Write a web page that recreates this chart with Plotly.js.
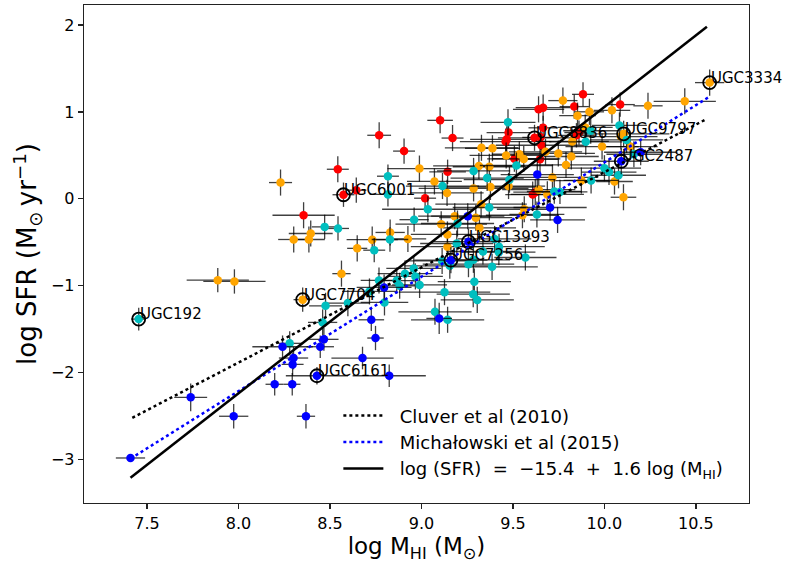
<!DOCTYPE html>
<html><head><meta charset="utf-8">
<script src="https://cdn.plot.ly/plotly-3.0.1.min.js"></script>
<style>body{margin:0;background:#fff}#chart{width:785px;height:565px}</style>
</head><body><div id="chart"></div>
<script>
// ---- data (log M_HI, log SFR, errors) ----
var redX  = [8.769,8.905,8.543,8.574,8.644,8.356,9.020,9.102,9.170,9.143,9.476,9.466,9.460,9.640,9.665,9.835,9.883,10.086,9.618,9.651,9.665,9.656,9.508,9.648,9.608,9.622,9.861,9.847];
var redY  = [0.731,0.549,0.340,0.047,0.099,-0.189,0.007,0.903,0.699,0.311,0.762,0.685,0.659,1.030,1.049,1.061,1.202,1.084,0.702,0.708,0.817,0.616,0.461,0.455,0.049,0.076,0.762,0.731];
var redXe = [0.065,0.06,0.06,0.06,0.055,0.17,0.06,0.07,0.06,0.10,0.12,0.20,0.25,0.14,0.15,0.08,0.06,0.08,0.20,0.10,0.08,0.25,0.12,0.10,0.15,0.12,0.08,0.10];
var redYe = [0.15,0.145,0.15,0.14,0.145,0.15,0.15,0.15,0.15,0.14,0.15,0.15,0.15,0.15,0.15,0.14,0.14,0.14,0.15,0.15,0.14,0.15,0.15,0.15,0.15,0.15,0.14,0.14];

var orangeX  = [8.230,8.989,8.395,8.302,8.385,8.829,8.731,8.926,8.649,8.563,7.887,7.978,8.351,9.071,9.140,9.328,9.388,9.314,9.371,9.285,9.377,9.476,9.463,9.535,9.559,9.678,9.748,9.819,9.790,9.716,9.641,9.688,9.773,9.853,9.918,10.041,10.238,10.439,10.575,9.895,9.824,9.987,10.105,10.090,10.141,9.874,10.055,10.104,9.326,9.182,9.297,9.108,9.317,9.142,9.142,9.562,9.552];
var orangeY  = [0.187,0.348,-0.399,-0.468,-0.468,-0.387,-0.470,-0.462,-0.570,-0.861,-0.936,-0.951,-1.160,0.200,0.068,0.587,0.582,0.378,0.369,0.120,0.136,0.147,0.499,0.513,0.459,0.541,0.522,0.487,0.390,0.246,0.105,0.051,1.130,0.957,1.001,1.018,1.070,1.122,1.337,0.821,0.660,0.601,0.748,0.716,0.601,0.210,0.199,0.018,-0.062,-0.200,-0.217,-0.292,-0.334,-0.410,-0.551,-0.120,-0.189];
var orangeXe = [0.063,0.175,0.12,0.085,0.087,0.08,0.14,0.10,0.055,0.05,0.17,0.17,0.05,0.15,0.20,0.20,0.15,0.25,0.20,0.30,0.25,0.20,0.20,0.15,0.20,0.20,0.20,0.15,0.20,0.25,0.20,0.20,0.08,0.10,0.08,0.10,0.08,0.17,0.08,0.15,0.20,0.20,0.25,0.20,0.15,0.15,0.10,0.07,0.25,0.20,0.20,0.25,0.20,0.20,0.20,0.15,0.20];
var orangeYe = [0.15,0.15,0.15,0.15,0.15,0.15,0.15,0.15,0.15,0.15,0.14,0.14,0.14,0.15,0.15,0.15,0.15,0.15,0.15,0.15,0.15,0.15,0.15,0.15,0.15,0.15,0.15,0.15,0.15,0.15,0.15,0.15,0.15,0.15,0.15,0.15,0.15,0.15,0.15,0.15,0.15,0.15,0.15,0.15,0.15,0.15,0.15,0.15,0.15,0.15,0.15,0.15,0.15,0.15,0.15,0.15,0.15];

var cyanX  = [7.455,8.817,8.817,8.471,8.544,8.828,8.960,8.742,9.035,9.115,9.285,9.359,9.481,9.473,9.519,9.726,9.757,9.371,9.197,9.193,9.400,9.424,9.423,9.336,9.113,9.155,9.257,9.284,9.386,9.568,9.289,9.126,9.283,9.305,9.074,9.143,9.631,10.082,10.121,10.161,9.925,9.898,9.927,10.000,10.025,10.077,8.768,8.865,8.910,8.958,8.967,8.881,8.990,8.716,8.798,8.598,8.476,8.460,8.280];
var cyanY  = [-1.384,0.260,0.051,-0.323,-0.341,-0.468,-0.240,-0.591,-0.120,0.147,0.321,0.239,0.220,0.880,0.383,0.084,0.079,-0.100,-0.284,-0.514,-0.462,-0.551,-0.614,-0.606,-0.715,-0.771,-0.752,-0.702,-0.783,-0.675,-0.953,-1.074,-1.097,-1.163,-1.300,-1.392,-0.180,0.844,0.677,0.513,0.783,0.656,0.211,0.352,0.308,0.271,-0.939,-0.941,-0.861,-0.801,-0.893,-1.001,-0.991,-1.066,-1.192,-1.200,-1.231,-1.422,-1.663];
var cyanXe = [0.04,0.06,0.10,0.07,0.06,0.10,0.08,0.06,0.25,0.20,0.20,0.20,0.25,0.15,0.20,0.15,0.15,0.20,0.20,0.20,0.20,0.25,0.20,0.20,0.20,0.25,0.25,0.20,0.25,0.17,0.20,0.25,0.20,0.20,0.20,0.20,0.15,0.15,0.20,0.15,0.15,0.20,0.15,0.20,0.15,0.15,0.10,0.12,0.15,0.15,0.15,0.12,0.15,0.15,0.13,0.12,0.09,0.08,0.07];
var cyanYe = [0.13,0.135,0.14,0.14,0.14,0.14,0.14,0.14,0.15,0.15,0.15,0.15,0.15,0.15,0.15,0.14,0.14,0.15,0.15,0.15,0.15,0.15,0.15,0.15,0.15,0.15,0.15,0.15,0.15,0.15,0.15,0.15,0.15,0.15,0.15,0.15,0.15,0.15,0.15,0.15,0.15,0.15,0.15,0.15,0.15,0.15,0.15,0.15,0.15,0.15,0.15,0.15,0.15,0.15,0.15,0.15,0.15,0.15,0.14];

var blueX  = [7.410,7.739,7.974,8.369,8.198,8.294,8.429,8.824,8.678,8.241,8.301,8.296,8.467,8.447,8.726,8.749,8.796,9.097,9.161,9.257,9.253,9.633,9.703,9.744,10.198,10.092];
var blueY  = [-2.982,-2.284,-2.502,-2.502,-2.134,-2.134,-2.036,-2.036,-1.832,-1.702,-1.832,-1.905,-1.617,-1.702,-1.392,-1.602,-1.020,-1.376,-0.706,-0.493,-0.200,0.279,-0.100,-0.243,0.536,0.432];
var blueXe = [0.08,0.09,0.08,0.05,0.05,0.045,0.17,0.20,0.17,0.165,0.08,0.06,0.08,0.075,0.07,0.045,0.15,0.07,0.20,0.20,0.20,0.20,0.20,0.15,0.20,0.15];
var blueYe = [0.03,0.16,0.14,0.14,0.13,0.13,0.10,0.13,0.13,0.13,0.13,0.13,0.13,0.13,0.13,0.14,0.15,0.18,0.15,0.15,0.15,0.15,0.15,0.15,0.15,0.15];

// labelled galaxies
var labelNames = ["UGC3334","UGC8836","UGC9797","UGC2487","UGC6001","UGC13993","UGC7256","UGC7704","UGC192","UGC6161"];
var labelX = [10.575,9.618,10.105,10.092,8.574,9.257,9.161,8.351,7.455,8.429];
var labelY = [1.337,0.702,0.748,0.432,0.047,-0.493,-0.706,-1.160,-1.384,-2.036];

// relations (end points as drawn)
var cluverX = [7.42,10.56],  cluverY = [-2.52,0.92];
var michX   = [7.41,10.57],  michY   = [-2.99,1.17];
var fitX    = [7.41,10.56],  fitY    = [-3.21,1.98];

var xTicks = [7.5,8.0,8.5,9.0,9.5,10.0,10.5];
var xTickText = ["7.5","8.0","8.5","9.0","9.5","10.0","10.5"];
var yTicks = [-3,-2,-1,0,1,2];
var yTickText = ["\u22123","\u22122","\u22121","0","1","2"];

var ebColor = 'rgba(0,0,0,0.75)';
function pts(x,y,xe,ye,color){
  return {x:x,y:y,type:'scatter',mode:'markers',showlegend:false,hoverinfo:'skip',
    marker:{color:color,size:8.5,line:{width:0}},
    error_x:{type:'data',array:xe,visible:true,color:ebColor,thickness:1.3,width:0},
    error_y:{type:'data',array:ye,visible:true,color:ebColor,thickness:1.3,width:0}};
}
var font = "DejaVu Sans, sans-serif";
var pad = '\u00a0\u00a0';
var data = [
  pts(redX,redY,redXe,redYe,'#ff0000'),
  pts(orangeX,orangeY,orangeXe,orangeYe,'#ffa500'),
  pts(cyanX,cyanY,cyanXe,cyanYe,'#00bfbf'),
  pts(blueX,blueY,blueXe,blueYe,'#0000ff'),
  {x:labelX,y:labelY,type:'scatter',mode:'markers',showlegend:false,hoverinfo:'skip',
   marker:{symbol:'circle-open',size:13,color:'#000',line:{width:1.8,color:'#000'}}},
  {x:cluverX,y:cluverY,type:'scatter',mode:'lines',name:pad+'Cluver et al (2010)',legendgroup:'a',
   line:{color:'#000',width:2.5,dash:'dot'}},
  {x:michX,y:michY,type:'scatter',mode:'lines',name:pad+'Michałowski et al (2015)',legendgroup:'b',
   line:{color:'#0000ff',width:2.5,dash:'dot'}},
  {x:fitX,y:fitY,type:'scatter',mode:'lines',name:pad+'log (SFR)  =  \u221215.4  +  1.6 log (M<sub>HI</sub>)',legendgroup:'c',
   line:{color:'#000',width:2.5}}
];
var annotations = labelNames.map(function(n,i){
  return {x:labelX[i],y:labelY[i],xref:'x',yref:'y',text:n,showarrow:false,
    xanchor:'left',yanchor:'bottom',yshift:-6,xshift:-1,font:{family:font,size:15,color:'#000'}};
});
var axisCommon = {showline:true,mirror:true,linecolor:'#222',linewidth:1.3,ticks:'outside',ticklen:5,tickwidth:1.2,
  tickcolor:'#222',showgrid:false,zeroline:false,tickfont:{family:font,size:16,color:'#000'},automargin:false};
var layout = {
  width:785,height:565,margin:{l:84,r:36,t:5,b:62},
  paper_bgcolor:'#fff',plot_bgcolor:'#fff',font:{family:font,color:'#000'},
  xaxis:Object.assign({},axisCommon,{range:[7.156,10.79],tickvals:xTicks,ticktext:xTickText,
    title:{text:'log M<sub>HI</sub> (M<sub>\u2299</sub>)',font:{family:font,size:23,color:'#000'},standoff:6}}),
  yaxis:Object.assign({},axisCommon,{range:[-3.50,2.23],tickvals:yTicks,ticktext:yTickText,
    title:{text:'log SFR (M<sub>\u2299</sub>\u2009yr<sup>\u22121</sup>)',font:{family:font,size:26,color:'#000'},standoff:6}}),
  legend:{x:0.3825,y:0.212,xanchor:'left',yanchor:'top',bgcolor:'rgba(255,255,255,1)',borderwidth:0,
    font:{family:font,size:18,color:'#000'},itemwidth:40,tracegroupgap:0},
  annotations:annotations
};
Plotly.newPlot('chart',data,layout,{staticPlot:true,displayModeBar:false});
</script></body></html>
